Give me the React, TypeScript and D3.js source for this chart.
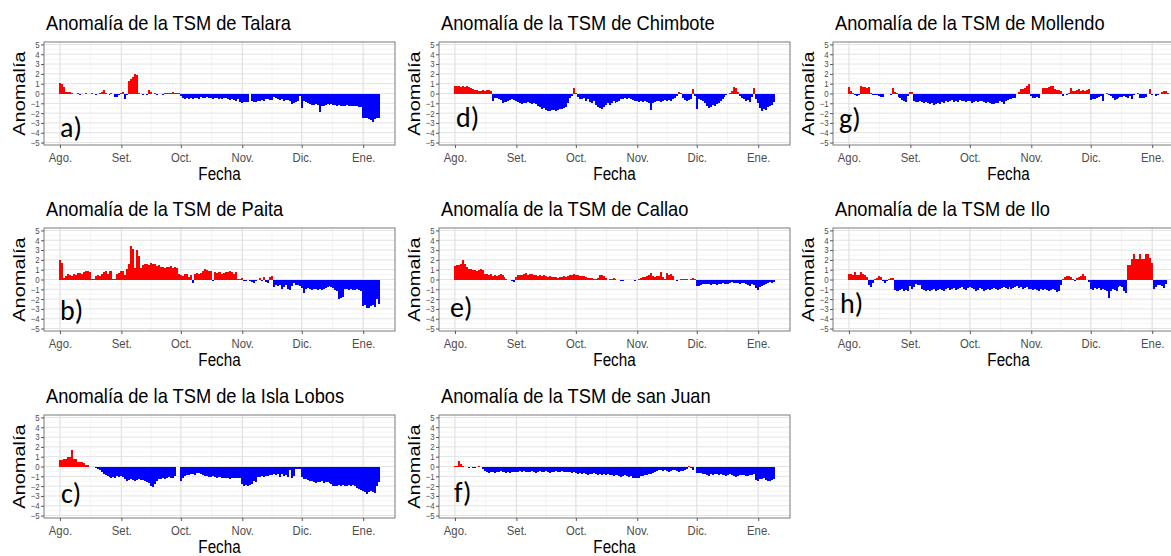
import React, { useEffect, useRef } from "react";
import * as d3 from "d3";

// daily SST anomaly (°C), 1 Aug -> 9 Jan, one line per month
const monthLabels = ["Ago.", "Set.", "Oct.", "Nov.", "Dic.", "Ene."];

const talara = [
  1.1, 1.0, 0.7, 0.2, 0.2, 0.2, 0.1, -0.1, -0.1, 0.05, -0.2, -0.1, -0.1, 0.1, -0.1, -0.1, 0.1, -0.05, -0.2, -0.1, 0.1, 0.2, 0.4, 0.1, -0.1, -0.2, 0.05, -0.1, -0.4, -0.4, -0.2,
  0.1, 0.2, -0.6, -0.2, 1.3, 1.5, 1.7, 2.0, 1.9, 0.1, -0.1, -0.2, -0.1, -0.2, 0.4, 0.2, -0.1, 0.1, -0.2, -0.1, -0.1, -0.2, 0.1, 0.1, 0.05, 0.1, 0.2, 0.1, 0.1, 0.1,
  -0.3, -0.5, -0.6, -0.5, -0.6, -0.5, -0.6, -0.5, -0.5, -0.6, -0.4, -0.5, -0.5, -0.4, -0.5, -0.5, -0.6, -0.5, -0.5, -0.6, -0.5, -0.6, -0.5, -0.5, -0.6, -0.7, -0.6, -0.7, -0.8, -0.6, -0.9,
  -1.0, -0.9, -0.9, -0.9, -0.05, -0.8, -0.9, -0.9, -0.8, -0.8, -0.7, -0.8, -0.6, -0.6, -0.7, -0.7, -0.4, -0.5, -0.6, -0.7, -0.6, -0.8, -0.7, -0.7, -0.8, -1.1, -1.0, -0.9, -0.8, -0.3,
  -1.5, -0.8, -0.9, -1.0, -1.1, -1.2, -1.2, -1.1, -1.2, -1.9, -1.3, -1.3, -1.2, -1.1, -1.2, -1.1, -1.2, -1.2, -1.3, -1.2, -1.3, -1.3, -1.3, -1.2, -1.3, -1.3, -1.3, -1.3, -1.3, -1.4, -1.4,
  -2.5, -2.5, -2.5, -2.6, -2.7, -2.9, -2.6, -2.5, -2.5,
];

const paita = [
  2.0, 1.7, 0.2, 0.4, 0.6, 0.5, 0.4, 0.6, 0.5, 0.7, 0.7, 0.6, 0.8, 0.9, 0.9, 0.8, 0.05, 0.05, 0.4, 0.5, 0.4, 0.6, 0.8, 0.9, 0.6, 0.9, 0.9, 0.1, 0.05, 0.6, 0.7,
  0.9, 0.9, 0.5, 1.1, 1.6, 3.4, 3.1, 1.2, 3.0, 2.4, 1.2, 1.5, 1.6, 1.6, 1.5, 1.7, 1.6, 1.6, 1.4, 1.5, 1.3, 1.3, 1.2, 1.3, 1.3, 1.4, 1.2, 1.3, 1.2, 0.6,
  0.5, 0.4, 0.6, 0.6, 0.3, 0.5, -0.4, 0.6, 0.7, 0.6, 0.7, 0.9, 1.1, 1.0, 0.9, 0.9, -0.2, 0.8, 0.7, 0.8, 0.8, 0.6, 0.7, 0.8, 0.8, 0.9, 0.8, 0.6, 0.8, 0.1, 0.05,
  0.2, -0.2, -0.2, -0.1, -0.2, -0.3, -0.4, -0.2, -0.1, 0.2, -0.2, 0.3, -0.3, -0.4, 0.3, 0.4, -0.8, -0.6, -0.7, -0.6, -1.0, -0.8, -0.6, -1.0, -1.1, -0.7, -0.4, -0.6, -0.6, -0.7,
  -0.9, -1.4, -1.0, -0.9, -1.0, -1.1, -1.0, -1.0, -1.1, -1.0, -1.1, -1.0, -0.9, -0.8, -0.7, -0.8, -0.9, -1.1, -1.2, -2.0, -1.9, -1.8, -1.0, -1.0, -1.1, -1.0, -1.1, -1.1, -1.0, -1.1, -1.2,
  -2.7, -2.6, -2.9, -2.9, -2.7, -2.6, -2.8, -2.0, -2.5,
];

const islaLobos = [
  0.7, 0.7, 0.8, 0.8, 1.0, 1.0, 1.7, 0.8, 0.8, 0.5, 0.5, 0.5, 0.4, 0.2, 0.2, 0.0, -0.1, -0.1, -0.2, -0.3, -0.4, -0.6, -0.8, -0.9, -1.0, -1.1, -1.2, -1.1, -1.2, -1.0, -1.1,
  -1.0, -1.1, -1.3, -1.5, -1.4, -1.3, -1.4, -1.5, -1.4, -1.3, -1.4, -1.4, -1.5, -1.6, -1.7, -2.0, -2.1, -1.8, -1.5, -1.3, -1.3, -1.2, -1.3, -1.2, -1.1, -1.2, -1.2, -1.0, 0.0, -0.05,
  -1.5, -1.2, -1.0, -0.9, -0.9, -0.8, -0.8, -0.9, -0.7, -0.7, -0.8, -0.9, -1.0, -1.0, -1.1, -1.1, -1.0, -1.1, -1.2, -1.1, -1.1, -1.2, -1.2, -1.2, -1.2, -1.3, -1.2, -1.2, -1.2, -1.2, -1.2,
  -1.8, -2.0, -1.9, -2.0, -1.9, -1.8, -1.5, -1.6, -1.1, -1.1, -1.0, -1.1, -1.0, -1.0, -0.9, -0.9, -0.8, -0.9, -0.8, -1.1, -0.8, -1.0, -0.9, -1.1, -0.4, -1.2, -1.0, -0.3, -0.3, -0.3,
  -1.1, -1.3, -1.3, -1.4, -1.5, -1.5, -1.6, -1.7, -1.6, -1.6, -1.5, -1.7, -1.6, -1.6, -1.7, -1.8, -2.0, -2.0, -2.0, -1.9, -2.0, -1.9, -2.0, -2.0, -1.9, -2.0, -1.9, -2.0, -2.2, -2.3, -2.4,
  -2.5, -2.6, -2.8, -2.6, -2.5, -2.6, -2.7, -2.0, -1.6,
];

const chimbote = [
  0.8, 0.8, 0.8, 0.7, 0.8, 0.7, 0.8, 0.7, 0.6, 0.5, 0.4, 0.4, 0.3, 0.3, 0.4, 0.3, 0.4, 0.4, 0.3, -0.8, -0.5, -0.5, -0.6, -0.7, -1.0, -0.9, -0.9, -0.8, -0.7, -0.6, -0.7,
  -0.8, -0.9, -1.0, -1.1, -1.0, -1.0, -0.9, -1.0, -1.1, -1.0, -1.1, -1.3, -1.4, -1.6, -1.5, -1.7, -1.8, -1.8, -1.7, -1.7, -1.8, -1.7, -1.6, -1.6, -1.5, -1.4, -1.0, -0.5, -0.3, 0.6,
  0.1, -0.4, -0.6, -0.6, -0.5, -0.8, -0.6, -0.9, -1.0, -0.8, -1.2, -1.4, -1.5, -1.6, -1.4, -1.2, -1.0, -1.2, -1.0, -0.8, -1.0, -0.9, -0.8, -0.6, -0.6, -0.5, -0.6, -0.5, -0.6, -0.7, -0.8,
  -0.8, -0.9, -0.8, -0.9, -0.8, -0.9, -1.0, -1.7, -1.0, -0.9, -0.8, -0.8, -0.9, -0.8, -0.7, -0.8, -0.7, -0.8, -0.6, -0.5, -0.3, 0.2, 0.1, -0.5, -0.7, -0.8, -0.7, -0.6, 0.5, -0.3,
  -1.6, -0.6, -0.7, -0.8, -1.0, -1.3, -1.5, -1.4, -1.2, -1.3, -1.1, -1.0, -0.8, -0.6, -0.4, -0.2, -0.1, 0.1, 0.3, 0.7, 0.6, 0.2, -0.3, -0.5, -0.6, -0.8, -0.7, -0.9, -0.4, 0.6, -0.6,
  -1.0, -1.5, -1.8, -1.6, -1.7, -1.4, -1.3, -1.2, -0.9,
];

const callao = [
  1.4, 1.5, 1.5, 1.6, 2.0, 1.6, 1.3, 1.1, 1.1, 1.0, 1.0, 0.9, 1.0, 1.1, 1.0, 0.6, 0.6, 0.5, 0.6, 0.4, 0.5, 0.4, 0.5, 0.6, 0.5, 0.3, 0.1, -0.05, -0.1, -0.2, -0.3,
  0.3, 0.5, 0.5, 0.5, 0.6, 0.7, 0.5, 0.6, 0.6, 0.5, 0.5, 0.4, 0.5, 0.4, 0.5, 0.4, 0.3, 0.4, 0.3, 0.3, 0.3, 0.2, 0.3, 0.3, 0.4, 0.3, 0.4, 0.5, 0.5, 0.6,
  0.5, 0.5, 0.4, 0.4, 0.4, 0.3, 0.2, 0.2, 0.2, 0.1, 0.1, 0.2, 0.5, 0.5, 0.4, 0.2, -0.1, 0.1, 0.1, 0.2, 0.05, -0.1, -0.1, -0.15, -0.2, -0.1, -0.1, -0.05, -0.1, -0.1, -0.2,
  -0.1, 0.1, 0.2, 0.3, 0.3, 0.4, 0.5, 0.7, 0.4, 0.3, 0.4, 0.4, 0.8, 0.3, 0.1, 0.7, 0.5, 0.6, 0.4, -0.1, -0.2, -0.1, 0.05, 0.1, 0.05, 0.1, -0.05, 0.1, 0.15, 0.1,
  -0.7, -0.7, -0.6, -0.5, -0.5, -0.5, -0.5, -0.6, -0.5, -0.5, -0.6, -0.5, -0.5, -0.4, -0.5, -0.5, -0.5, -0.4, -0.3, -0.4, -0.4, -0.4, -0.5, -0.4, -0.4, -0.5, -0.6, -0.7, -0.5, -0.6, -0.9,
  -1.1, -0.8, -0.7, -0.6, -0.5, -0.4, -0.3, -0.4, -0.3,
];

const sanJuan = [
  0.1, 0.1, 0.6, 0.3, 0.05, -0.05, -0.1, -0.2, -0.1, -0.2, -0.2, -0.1, 0.1, -0.1, -0.3, -0.5, -0.6, -0.7, -0.6, -0.6, -0.7, -0.6, -0.6, -0.5, -0.6, -0.6, -0.7, -0.6, -0.7, -0.6, -0.6,
  -0.6, -0.6, -0.5, -0.6, -0.5, -0.6, -0.6, -0.6, -0.5, -0.6, -0.7, -0.6, -0.5, -0.6, -0.6, -0.5, -0.6, -0.7, -0.6, -0.6, -0.5, -0.6, -0.6, -0.5, -0.6, -0.6, -0.6, -0.6, -0.7, -0.6,
  -0.7, -0.8, -0.7, -0.8, -0.7, -0.8, -0.9, -0.8, -0.8, -0.7, -0.8, -0.9, -0.8, -0.9, -0.8, -0.9, -0.8, -0.9, -0.9, -1.0, -0.9, -0.9, -1.0, -1.1, -1.0, -0.9, -1.0, -1.1, -1.0, -1.2, -1.2,
  -1.2, -1.2, -1.0, -1.0, -0.9, -0.9, -0.8, -0.8, -0.7, -0.6, -0.5, -0.4, -0.4, -0.5, -0.4, -0.5, -0.6, -0.5, -0.4, -0.4, -0.5, -0.6, -0.5, -0.5, -0.4, -0.3, 0.1, -0.2, -0.4, -0.1,
  -0.7, -0.7, -0.7, -0.8, -0.8, -0.9, -1.0, -0.8, -0.9, -0.8, -0.8, -0.9, -0.8, -0.9, -0.9, -1.0, -0.9, -0.8, -0.9, -1.0, -1.1, -1.0, -0.9, -0.9, -0.9, -1.0, -1.0, -0.9, -0.9, -0.8, -1.4,
  -1.5, -1.3, -1.3, -1.2, -1.4, -1.5, -1.5, -1.4, -1.3,
];

const mollendo = [
  0.7, 0.3, 0.05, -0.2, -0.3, -0.2, 0.8, 0.7, 0.7, 0.6, 0.7, 0.05, -0.2, -0.2, -0.2, -0.3, -0.4, -0.4, -0.1, -0.1, -0.1, -0.2, 0.6, 0.2, 0.1, -0.4, -0.5, -0.7, -0.8, -0.9, -0.3,
  0.2, 0.2, -0.8, -0.9, -0.9, -0.8, -0.9, -1.0, -0.9, -1.0, -1.1, -1.0, -1.2, -1.1, -1.0, -1.1, -0.9, -1.0, -0.8, -0.9, -0.8, -0.7, -0.9, -0.8, -0.9, -0.7, -0.8, -0.8, -0.9, -0.8,
  -0.8, -1.0, -0.9, -0.8, -0.9, -0.8, -0.8, -0.9, -1.0, -0.9, -1.0, -1.1, -1.1, -1.0, -1.0, -0.8, -0.9, -1.1, -0.8, -0.7, -0.6, -0.6, -0.5, -0.5, -0.1, 0.2, 0.5, 0.5, 0.6, 0.8, 0.95,
  -0.3, -0.5, -0.5, -0.4, -0.5, -0.1, 0.6, 0.6, 0.6, 0.7, 0.8, 0.8, 0.5, 0.4, 0.4, 0.3, -0.3, -0.1, -0.2, 0.05, 0.6, 0.3, 0.3, 0.4, 0.5, 0.3, 0.4, 0.3, 0.4, 0.5,
  -0.7, -0.6, -0.6, -0.5, -0.4, -0.3, -0.8, -0.1, 0.05, -0.2, -0.3, -0.5, -0.7, -0.6, -0.5, -0.4, -0.4, -0.3, -0.4, -0.5, -0.3, -0.6, -0.2, -0.1, 0.1, -0.5, -0.5, -0.5, -0.4, -0.1, 0.5,
  -0.2, -0.1, -0.3, -0.2, -0.1, 0.2, 0.3, 0.3, 0.1,
];

const ilo = [
  0.6, 0.6, 0.5, 0.75, 0.5, 0.5, 0.8, 0.6, 0.5, 0.3, -0.6, -0.8, -0.4, 0.05, 0.2, 0.4, 0.3, -0.2, -0.4, -0.2, 0.05, 0.2, 0.15, -1.1, -1.2, -1.2, -1.1, -1.0, -1.2, -1.1, -1.2,
  -0.7, -1.0, -0.8, -0.5, -0.6, -0.6, -1.0, -1.1, -1.2, -1.1, -1.2, -1.1, -1.0, -1.2, -1.1, -1.0, -1.1, -1.2, -1.0, -0.9, -1.1, -1.0, -0.9, -1.1, -1.0, -0.9, -0.8, -1.0, -1.1, -0.9,
  -0.8, -0.9, -1.0, -1.2, -1.1, -0.9, -1.0, -1.2, -1.1, -1.0, -1.1, -1.0, -0.9, -1.0, -1.1, -1.0, -0.9, -0.8, -0.9, -1.0, -0.8, -1.0, -0.9, -0.8, -0.7, -0.9, -0.8, -1.0, -0.9, -0.8, -1.0,
  -1.0, -1.1, -1.0, -1.1, -1.2, -1.0, -1.1, -1.0, -1.1, -1.2, -1.1, -1.0, -1.1, -1.3, -1.2, -0.6, 0.05, 0.3, 0.4, 0.4, 0.3, 0.1, -0.15, 0.2, 0.3, 0.4, 0.6, 0.4, -0.1, -0.3,
  -1.0, -1.1, -0.9, -1.0, -0.9, -1.1, -1.0, -1.1, -1.2, -1.9, -1.2, -1.0, -1.1, -1.2, -0.8, -0.7, -0.8, -1.2, -1.4, 1.5, 1.5, 2.1, 2.6, 2.1, 2.1, 2.6, 2.1, 2.1, 2.6, 2.6, 2.2,
  1.7, -1.0, -0.8, -0.6, -0.6, -0.7, -0.9, -0.5, -0.1,
];

const titles = [
  "Anomalía de la TSM de Talara",
  "Anomalía de la TSM de Paita",
  "Anomalía de la TSM de la Isla Lobos",
  "Anomalía de la TSM de Chimbote",
  "Anomalía de la TSM de Callao",
  "Anomalía de la TSM de san Juan",
  "Anomalía de la TSM de Mollendo",
  "Anomalía de la TSM de Ilo",
];
const tags = ["a)", "b)", "c)", "d)", "e)", "f)", "g)", "h)"];
const series = [talara, paita, islaLobos, chimbote, callao, sanJuan, mollendo, ilo];

// panel layout (column-major like the figure), tag offsets inside panel
const colX = [44, 439, 833];
const rowY = [42, 228, 415];
const tagPos = [
  [16, 95], [16, 92], [17, 88],
  [17, 85], [11, 89], [15, 87],
  [6, 86], [7, 85],
];

const panelW = 351;
const panelH = 103;
const SQ = 0.87; // the figure is slightly squeezed horizontally
const FONT = "'Liberation Sans', Arial, Helvetica, sans-serif";

const App = () => {
  const ref = useRef<SVGSVGElement>(null);

  useEffect(() => {
    document.body.style.margin = "0";
    const svg = d3.select(ref.current);
    svg.selectAll("*").remove();

    const start = new Date(2021, 7, 1);
    const nDays = talara.length;
    const end = d3.timeDay.offset(start, nDays - 1);
    const padH = Math.round((nDays - 1) * 0.05 * 24);

    const x = d3.scaleTime()
      .domain([d3.timeHour.offset(start, -padH), d3.timeHour.offset(end, padH)])
      .range([0, panelW]);
    const y = d3.scaleLinear().domain([-5.25, 5.25]).range([panelH, 0]);

    const majors = d3.timeMonth.range(start, d3.timeDay.offset(end, 1));
    const minors = majors.slice(1).map((m, i) => new Date((m.getTime() + majors[i].getTime()) / 2));
    // bar edges halfway between days, rounded to whole pixels so bars touch
    const edge = (i: number) => Math.round(x(d3.timeHour.offset(start, i * 24 - 12)));

    series.forEach((values, k) => {
      const col = Math.floor(k / 3);
      const row = k % 3;
      const g = svg.append("g").attr("transform", `translate(${colX[col]},${rowY[row]})`);

      // grid
      g.append("g").selectAll("line")
        .data(d3.range(-4.5, 5, 1))
        .join("line")
        .attr("x1", 0).attr("x2", panelW)
        .attr("y1", d => y(d)).attr("y2", d => y(d))
        .attr("stroke", "#f0f0f0").attr("stroke-width", 0.7);
      g.append("g").selectAll("line")
        .data(minors)
        .join("line")
        .attr("x1", d => x(d)).attr("x2", d => x(d))
        .attr("y1", 0).attr("y2", panelH)
        .attr("stroke", "#f0f0f0").attr("stroke-width", 0.8);
      g.append("g").selectAll("line")
        .data(d3.range(-5, 6))
        .join("line")
        .attr("x1", 0).attr("x2", panelW)
        .attr("y1", d => y(d)).attr("y2", d => y(d))
        .attr("stroke", "#e3e3e3").attr("stroke-width", 1);
      g.append("g").selectAll("line")
        .data(majors)
        .join("line")
        .attr("x1", d => x(d)).attr("x2", d => x(d))
        .attr("y1", 0).attr("y2", panelH)
        .attr("stroke", "#e3e3e3").attr("stroke-width", 1.3);

      // bars
      g.append("g").attr("shape-rendering", "crispEdges").selectAll("rect")
        .data(values)
        .join("rect")
        .attr("x", (_, i) => edge(i))
        .attr("width", (_, i) => edge(i + 1) - edge(i))
        .attr("y", d => y(Math.max(0, d)))
        .attr("height", d => Math.abs(y(d) - y(0)))
        .attr("fill", d => (d >= 0 ? "#ff0000" : "#0000ff"));

      // border
      g.append("rect")
        .attr("width", panelW).attr("height", panelH)
        .attr("fill", "none").attr("stroke", "#7a7a7a").attr("stroke-width", 1);

      // axes
      const ax = g.append("g")
        .attr("transform", `translate(0,${panelH})`)
        .call(d3.axisBottom(x).tickValues(majors)
          .tickFormat((_, i) => monthLabels[i]).tickSizeInner(3).tickSizeOuter(0).tickPadding(5));
      ax.select(".domain").remove();
      ax.selectAll("line").attr("stroke", "#555");
      ax.selectAll("text")
        .attr("font-family", FONT).attr("font-size", 13).attr("fill", "#4d4d4d")
        .attr("transform", `scale(${SQ},1)`);

      const ay = g.append("g")
        .call(d3.axisLeft(y).tickValues(d3.range(-5, 6)).tickSizeInner(3).tickSizeOuter(0).tickPadding(2));
      ay.select(".domain").remove();
      ay.selectAll("line").attr("stroke", "#555");
      ay.selectAll("text")
        .attr("font-family", FONT).attr("font-size", 9).attr("fill", "#4d4d4d")
        .attr("transform", `scale(${SQ},1)`);

      // titles
      g.append("text")
        .attr("transform", `translate(2,-12) scale(${SQ},1)`)
        .attr("font-family", FONT).attr("font-size", 21).attr("fill", "#000")
        .text(titles[k]);
      g.append("text")
        .attr("transform", `translate(${panelW / 2},${panelH + 35}) scale(${SQ},1)`)
        .attr("text-anchor", "middle")
        .attr("font-family", FONT).attr("font-size", 17.5).attr("fill", "#000")
        .text("Fecha");
      g.append("text")
        .attr("transform", `translate(-19,${panelH / 2}) rotate(-90) scale(1,${SQ})`)
        .attr("text-anchor", "middle")
        .attr("font-family", FONT).attr("font-size", 20).attr("fill", "#000")
        .text("Anomalía");

      g.append("text")
        .attr("x", tagPos[k][0]).attr("y", tagPos[k][1])
        .attr("font-family", "Carlito, Lato, 'Open Sans', sans-serif").attr("font-size", 28).attr("fill", "#000")
        .text(tags[k]);
    });
  }, []);

  return (
    <svg ref={ref} width={1171} height={556} style={{ display: "block", background: "#fff" }} />
  );
};

export default App;
